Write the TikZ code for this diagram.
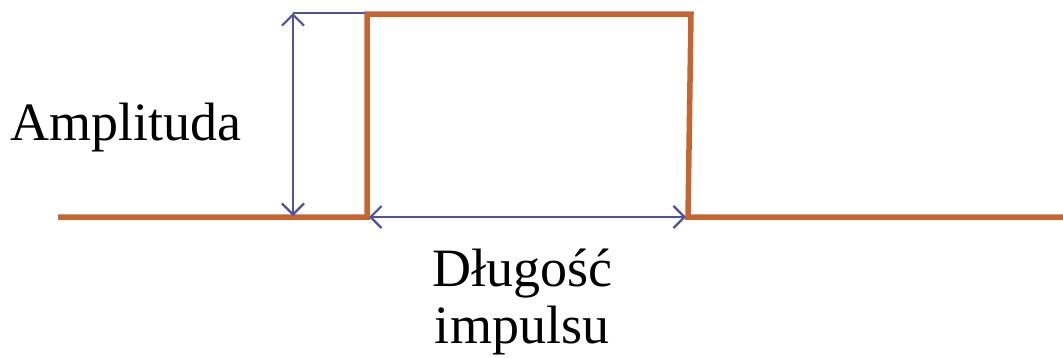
\documentclass[tikz,border=0pt]{standalone}
\usepackage{fontspec}
\setmainfont{Liberation Serif}
\usetikzlibrary{arrows.meta}
\definecolor{pulse}{RGB}{197,101,50}
\definecolor{dim}{RGB}{82,82,150}
\begin{document}
\begin{tikzpicture}[x=1pt,y=-1pt,
  pulseline/.style={draw=pulse,line width=5.5pt,line join=miter},
  dimline/.style={draw=dim,line width=2.2pt},
  dimarrow/.style={dimline,{Straight Barb[length=11pt,width=22pt,line width=2.2pt]}-{Straight Barb[length=11pt,width=22pt,line width=2.2pt]}},
  lbl/.style={font=\fontsize{54}{57}\selectfont,align=center,inner sep=0pt}]
\useasboundingbox (0,0) rectangle (1063,357);
\coordinate (s) at (58,217);
\coordinate (r0) at (367,217);
\coordinate (r1) at (367,14);
\coordinate (r2) at (691,14);
\coordinate (r3) at (688,217);
\coordinate (e) at (1063,217);
\draw[pulseline] (s) -- (r0) -- (r1) -- (r2) -- (r3) -- (e);
\coordinate (at) at (293,13);
\coordinate (ab) at (293,216);
\coordinate (ht) at (365,13);
\draw[dimarrow] (at) -- (ab);
\draw[dimline] (at) -- (ht);
\coordinate (wl) at (369,217);
\coordinate (wr) at (686,217);
\draw[dimarrow] (wl) -- (wr);
\node[lbl] (amp) at (126,128) {Amplituda};
\node[lbl] (len) at (522,302) {Długość\\impulsu};
\end{tikzpicture}
\end{document}
